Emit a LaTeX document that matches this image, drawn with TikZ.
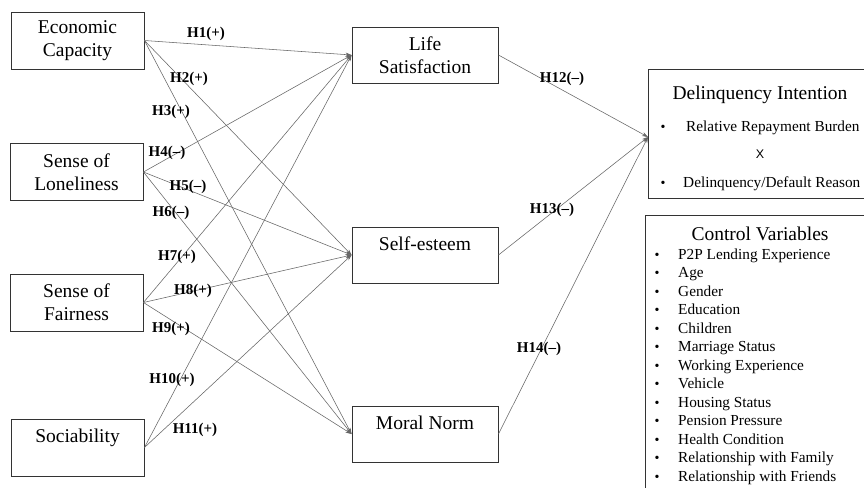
\documentclass[tikz,border=0pt]{standalone}
\usepackage{fontspec}
\setmainfont{Liberation Serif}
\newfontfamily\xfont{Liberation Sans}
\usetikzlibrary{arrows.meta}
\begin{document}
\begin{tikzpicture}[x=1pt,y=-1pt,
 box/.style={draw=black!80,line width=0.9pt,minimum width=133pt,minimum height=57pt,inner sep=0pt,align=center,font=\rmfamily\fontsize{19.5}{23}\selectfont},
 mbox/.style={box,minimum width=146pt,minimum height=56pt},
 bigbox/.style={draw=black!80,line width=0.9pt,inner sep=0pt},
 hyp/.style={font=\rmfamily\bfseries\fontsize{15}{18}\selectfont,inner sep=0pt},
 link/.style={draw=black!60,line width=0.55pt,-{Stealth[length=6pt,width=4pt]}},
 title/.style={inner sep=0pt,font=\rmfamily\fontsize{19.5}{23}\selectfont},
 item/.style={anchor=base west,inner sep=0pt,font=\rmfamily\fontsize{15.3}{18}\selectfont},
 bul/.style={anchor=base,inner sep=0pt,font=\rmfamily\fontsize{14}{16}\selectfont}]
\fill[white] (0,0) rectangle (864,487);
\clip (0,0) rectangle (864,487);

% left boxes
\node[box] (econ) at (77.5,40.5) {Economic\\Capacity};
\node[box] (lone) at (76.5,172) {Sense of\\Loneliness};
\node[box] (fair) at (76.5,302.5) {Sense of\\Fairness};
\node[box] (soc) at (77.5,447.5) {Sociability\\\mbox{}};
% middle boxes
\node[mbox] (life) at (425,55) {Life\\Satisfaction};
\node[mbox] (self) at (425,255) {Self-esteem\\\mbox{}};
\node[mbox] (moral) at (425,434) {Moral Norm\\\mbox{}};
% right boxes
\node[bigbox,minimum width=240pt,minimum height=129pt] (delin) at (768,133.5) {};
\node[bigbox,minimum width=240pt,minimum height=300pt] (ctrl) at (765,365) {};
\coordinate (dtip) at (648,137);

% delinquency text
\node[title] (dtitle) at (760,95) {Delinquency Intention};
\node[bul] (db1) at (663,131) {\textbullet};
\node[item] (di1) at (686,131) {Relative Repayment Burden};
\node[inner sep=0pt,font=\xfont\fontsize{12.5}{14}\selectfont] (dx) at (760,154) {X};
\node[bul] (db2) at (663,187) {\textbullet};
\node[item] (di2) at (683,187) {Delinquency/Default Reason};

% control variables
\node[title] (ctitle) at (760,234) {Control Variables};
\foreach \t [count=\i from 0] in {P2P Lending Experience,Age,Gender,Education,Children,Marriage Status,Working Experience,Vehicle,Housing Status,Pension Pressure,Health Condition,Relationship with Family,Relationship with Friends}{
  \node[bul] (cb\i) at (657,259+18.5*\i) {\textbullet};
  \node[item] (ci\i) at (678,259+18.5*\i) {\t};
}

% connectors
\draw[link] (econ.east) -- (life.west);
\draw[link] (econ.east) -- (self.west);
\draw[link] (econ.east) -- (moral.west);
\draw[link] (lone.east) -- (life.west);
\draw[link] (lone.east) -- (self.west);
\draw[link] (lone.east) -- (moral.west);
\draw[link] (fair.east) -- (life.west);
\draw[link] (fair.east) -- (self.west);
\draw[link] (fair.east) -- (moral.west);
\draw[link] (soc.east) -- (life.west);
\draw[link] (soc.east) -- (self.west);
\draw[link] (life.east) -- (dtip);
\draw[link] (self.east) -- (dtip);
\draw[link] (moral.east) -- (dtip);

% labels
\node[hyp] (h1) at (206,34) {H1(+)};
\node[hyp] (h2) at (189,79) {H2(+)};
\node[hyp] (h3) at (171,112) {H3(+)};
\node[hyp] (h4) at (167,153) {H4(--)};
\node[hyp] (h5) at (188,187) {H5(--)};
\node[hyp] (h6) at (171,213) {H6(--)};
\node[hyp] (h7) at (177,257) {H7(+)};
\node[hyp] (h8) at (193,291) {H8(+)};
\node[hyp] (h9) at (171,329) {H9(+)};
\node[hyp] (h10) at (172,380) {H10(+)};
\node[hyp] (h11) at (195,430) {H11(+)};
\node[hyp] (h12) at (562,79) {H12(--)};
\node[hyp] (h13) at (552,210) {H13(--)};
\node[hyp] (h14) at (539,349) {H14(--)};
\end{tikzpicture}
\end{document}
